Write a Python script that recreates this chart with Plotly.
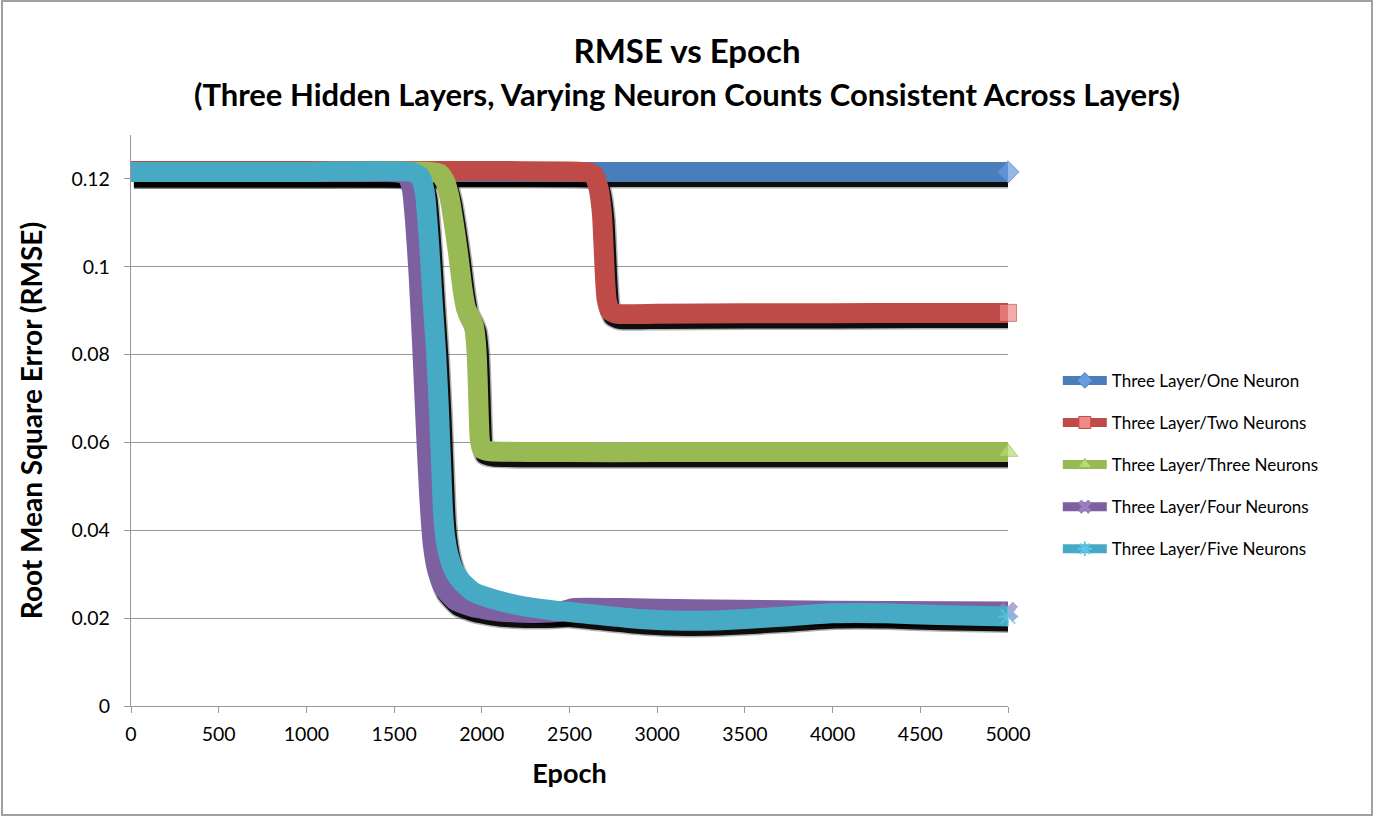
import plotly.graph_objects as go

# ---------------- data ----------------
series_names = [
    "Three Layer/One Neuron",
    "Three Layer/Two Neurons",
    "Three Layer/Three Neurons",
    "Three Layer/Four Neurons",
    "Three Layer/Five Neurons",
]

epoch_one = [0, 1000, 2000, 3000, 4000, 5000]
rmse_one = [0.1216, 0.1216, 0.1216, 0.1216, 0.1216, 0.1216]

epoch_two = [0, 1000, 2000, 2500, 2600, 2640, 2665, 2685, 2695, 2703, 2712, 2730, 2770,
             3000, 3500, 4000, 4500, 5000]
rmse_two = [0.1218, 0.1218, 0.1218, 0.1217, 0.1215, 0.1208, 0.118, 0.112, 0.104, 0.097,
            0.0925, 0.0900, 0.0893, 0.0893, 0.0894, 0.0894, 0.0895, 0.0895]

epoch_three = [0, 1000, 1700, 1760, 1790, 1815, 1840, 1865, 1890, 1910, 1935, 1955, 1968,
               1976, 1982, 1988, 2000, 2050, 2500, 3000, 4000, 5000]
rmse_three = [0.1216, 0.1216, 0.1216, 0.1212, 0.1195, 0.116, 0.110, 0.103, 0.095, 0.0905,
              0.0885, 0.0865, 0.082, 0.075, 0.067, 0.061, 0.0585, 0.058, 0.0578, 0.0578,
              0.0578, 0.0578]

epoch_four = [0, 1000, 1500, 1570, 1600, 1620, 1640, 1660, 1680, 1700, 1720, 1745, 1780,
              1850, 1950, 2100, 2300, 2450, 2520, 2800, 3200, 4000, 5000]
rmse_four = [0.1216, 0.1216, 0.1215, 0.121, 0.118, 0.110, 0.098, 0.082, 0.064, 0.048,
             0.037, 0.031, 0.027, 0.024, 0.0225, 0.0215, 0.0212, 0.0215, 0.0223, 0.0223,
             0.0220, 0.0217, 0.0215]

epoch_five = [0, 1000, 1600, 1650, 1675, 1700, 1720, 1740, 1755, 1768, 1778, 1790, 1810,
              1840, 1880, 1950, 2050, 2200, 2400, 2600, 2900, 3150, 3400, 3700, 4000, 4300,
              4600, 5000]
rmse_five = [0.1216, 0.1216, 0.1216, 0.1205, 0.117, 0.105, 0.092, 0.080, 0.068, 0.055,
             0.045, 0.039, 0.0345, 0.031, 0.0285, 0.026, 0.0245, 0.023, 0.0218, 0.0210,
             0.0198, 0.0194, 0.0196, 0.0203, 0.0211, 0.0211, 0.0207, 0.0204]

y_tick_vals = [0, 0.02, 0.04, 0.06, 0.08, 0.1, 0.12]
y_tick_text = ["0", "0.02", "0.04", "0.06", "0.08", "0.1", "0.12"]
x_tick_vals = [0, 500, 1000, 1500, 2000, 2500, 3000, 3500, 4000, 4500, 5000]

# ---------------- styling ----------------
line_colors = ["#4a7ebb", "#be4b48", "#98b954", "#7d60a0", "#46aac5"]
marker_colors = ["#6a9be0", "#f08a88", "#b5dc6c", "#9a7fc0", "#5fc8e4"]
marker_symbols = ["diamond", "square", "triangle-up", "x", "asterisk-open"]
epochs = [epoch_one, epoch_two, epoch_three, epoch_four, epoch_five]
values = [rmse_one, rmse_two, rmse_three, rmse_four, rmse_five]

FONT = "Lato"
SHADOW_DX = 17        # epochs (~3 px)
SHADOW_DY = -0.0013   # rmse   (~6 px)


def marker_style(i, size):
    sym = marker_symbols[i]
    if sym == "asterisk-open":
        return dict(symbol=sym, size=size, color=marker_colors[i],
                    line=dict(color=marker_colors[i], width=2))
    if sym == "x":
        return dict(symbol=sym, size=size, color=marker_colors[i],
                    line=dict(color=line_colors[i], width=0.5))
    return dict(symbol=sym, size=size, color=marker_colors[i],
                line=dict(color=line_colors[i], width=1))


fig = go.Figure()

# shadows first
for ep, val in zip(epochs, values):
    sx = [e + SHADOW_DX for e in ep]
    sy = [v + SHADOW_DY for v in val]
    fig.add_trace(go.Scatter(x=sx, y=sy, mode="lines", showlegend=False, hoverinfo="skip",
                             line=dict(color="rgba(0,0,0,0.3)", width=22, shape="spline",
                                       smoothing=0.5)))
    fig.add_trace(go.Scatter(x=sx, y=sy, mode="lines", showlegend=False, hoverinfo="skip",
                             line=dict(color="rgba(0,0,0,0.92)", width=19, shape="spline",
                                       smoothing=0.5)))

for i, (ep, val) in enumerate(zip(epochs, values)):
    sizes = [0] * len(ep)
    sizes[-1] = 17
    fig.add_trace(go.Scatter(
        x=ep, y=val, mode="lines+markers", name=series_names[i], showlegend=False,
        cliponaxis=False, hoverinfo="x+y+name",
        line=dict(color=line_colors[i], width=20, shape="spline", smoothing=0.5),
        marker=marker_style(i, sizes),
    ))

# legend entries (line + marker sample)
for i in range(len(series_names)):
    fig.add_trace(go.Scatter(
        x=[None], y=[None], mode="lines+markers", name=series_names[i],
        legendgroup=f"g{i}", showlegend=True,
        line=dict(color=line_colors[i], width=9),
        marker=marker_style(i, 12),
    ))

title_text = ("<b>RMSE vs Epoch</b><br>"
              "<span style='font-size:31px'><b>(Three Hidden Layers, Varying Neuron Counts "
              "Consistent Across Layers)</b></span>")

fig.update_layout(
    width=1374, height=818,
    paper_bgcolor="white", plot_bgcolor="white",
    margin=dict(l=131, r=366, t=135, b=112),
    font=dict(family=FONT, color="black"),
    title=dict(text=title_text, x=0.5, xanchor="center", xref="container",
               y=1 - 63 / 818, yanchor="top", yref="container",
               font=dict(family=FONT, size=33, color="black")),
    xaxis=dict(range=[0, 5000], tickvals=x_tick_vals, showgrid=False,
               showline=True, linecolor="#999999", linewidth=1.3,
               ticks="outside", ticklen=6, tickcolor="#999999", tickwidth=1.3,
               ticklabelstandoff=4,
               tickfont=dict(family=FONT, size=19.5, color="black"), zeroline=False,
               title=dict(text="<b>Epoch</b>", font=dict(family=FONT, size=27, color="black"),
                          standoff=20)),
    yaxis=dict(range=[0, 0.13], tickvals=y_tick_vals, ticktext=y_tick_text,
               showgrid=True, gridcolor="#999999", gridwidth=1.3,
               showline=True, linecolor="#999999", linewidth=1.3,
               ticks="outside", ticklen=6, tickcolor="#999999", tickwidth=1.3,
               ticklabelstandoff=10,
               tickfont=dict(family=FONT, size=19.5, color="black"), zeroline=False,
               title=dict(text="<b>Root Mean Square Error (RMSE)</b>",
                          font=dict(family=FONT, size=28, color="black"), standoff=20)),
    legend=dict(x=1.0568, xanchor="left", y=0.601, yanchor="top",
                font=dict(family=FONT, size=17, color="black"),
                tracegroupgap=17, itemwidth=44, bgcolor="rgba(0,0,0,0)"),
    shapes=[dict(type="rect", xref="paper", yref="paper",
                 x0=(2 - 131) / 877, x1=(1372 - 131) / 877,
                 y0=(706 - 815) / 571, y1=(706 - 1) / 571,
                 line=dict(color="#a0a0a0", width=2), fillcolor="rgba(0,0,0,0)",
                 layer="below")],
)

fig.write_html("out.html")
